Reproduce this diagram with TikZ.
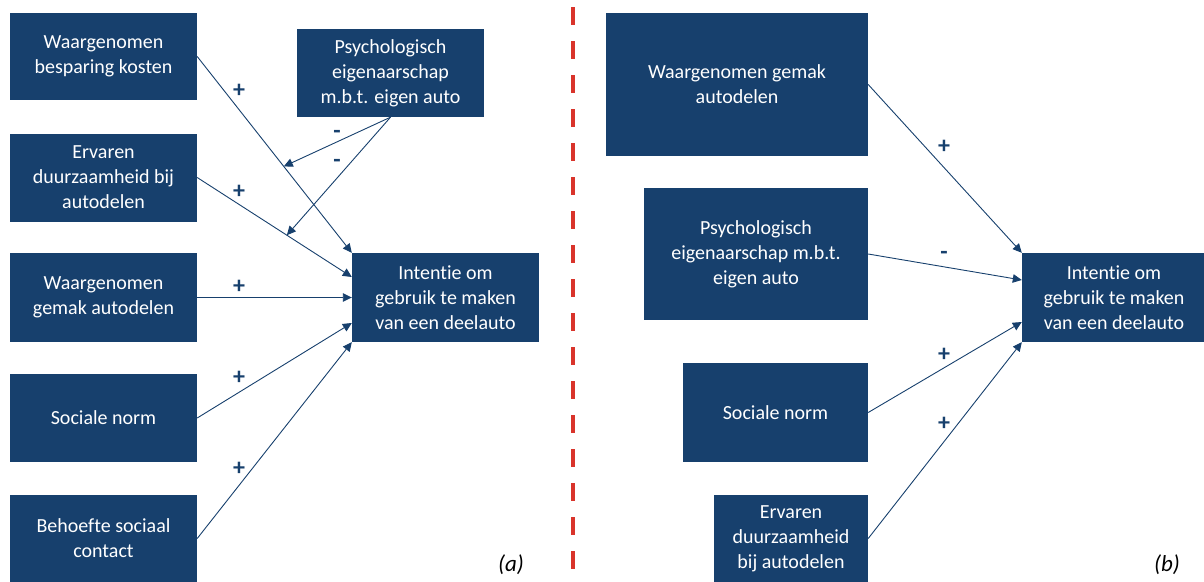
\documentclass[tikz,border=0pt]{standalone}
\usepackage{fontspec}
\setmainfont{Carlito}[Ligatures=NoCommon]
\usetikzlibrary{arrows.meta}
\definecolor{boxblue}{HTML}{17406D}
\definecolor{dashred}{HTML}{D9342B}
\tikzset{
  box/.style={fill=boxblue, draw=none, text=white, align=center, inner sep=0pt,
    font=\fontsize{20}{25}\selectfont},
  conn/.style={draw=boxblue, line width=0.9pt, -{Triangle[length=9pt,width=8.5pt]}},
  sign/.style={text=boxblue, font=\fontsize{24}{24}\selectfont\bfseries, inner sep=0pt},
  tag/.style={font=\fontsize{23}{23}\selectfont\itshape, inner sep=0pt}
}
\begin{document}
\begin{tikzpicture}[x=1pt,y=-1pt]
\useasboundingbox (0,0) rectangle (1204,581);
% ---- panel (a)
\node[box, minimum width=187pt, minimum height=87pt] (b1) at (103.5,56.5) {Waargenomen\\besparing kosten};
\node[box, minimum width=187pt, minimum height=88pt] (psy) at (390.5,73) {Psychologisch\\eigenaarschap\\m.b.t. eigen auto};
\node[box, minimum width=187pt, minimum height=88pt] (b2) at (103.5,177.5) {Ervaren\\duurzaamheid bij\\autodelen};
\node[box, minimum width=187pt, minimum height=89pt] (b3) at (103.5,297.5) {Waargenomen\\gemak autodelen};
\node[box, minimum width=187pt, minimum height=89pt] (int) at (445.5,297.5) {Intentie om\\gebruik te maken\\van een deelauto};
\node[box, minimum width=187pt, minimum height=88pt] (b4) at (103.5,418) {Sociale norm};
\node[box, minimum width=187pt, minimum height=88pt] (b5) at (103.5,538.5) {Behoefte sociaal\\contact};

\path (b1.east) -- (int.north west) coordinate[pos=0.56] (m1);
\path (b2.east) -- ([yshift=20.5pt]int.west) coordinate[pos=0.58] (m2);
\draw[conn] (b1.east) -- (int.north west);
\draw[conn] (b2.east) -- ([yshift=20.5pt]int.west);
\draw[conn] (b3.east) -- (int.west);
\draw[conn] (b4.east) -- ([yshift=-25.5pt]int.west);
\draw[conn] (b5.east) -- (int.south west);
\draw[conn] (psy.south) -- (m1);
\draw[conn] (psy.south) -- (m2);

\node[sign] (s1) at (239,91) {+};
\node[sign] (s2) at (239,192) {+};
\node[sign] (s3) at (239,287) {+};
\node[sign] (s4) at (239,378) {+};
\node[sign] (s5) at (239,469) {+};
\node[sign] (s6) at (337,134) {-};
\node[sign] (s7) at (337,163) {-};
\node[tag] (ta) at (511,565) {(a)};

% ---- divider
\coordinate (d1) at (573,7);
\coordinate (d2) at (573,581);
\draw[dashred, line width=4.5pt, dash pattern=on 18pt off 16pt] (d1) -- (d2);

% ---- panel (b)
\node[box, minimum width=262pt, minimum height=143pt] (r1) at (737,84.5) {Waargenomen gemak\\autodelen};
\node[box, minimum width=224pt, minimum height=132pt] (r2) at (756,254) {Psychologisch\\eigenaarschap m.b.t.\\eigen auto};
\node[box, minimum width=184pt, minimum height=89pt] (intr) at (1114,297.5) {Intentie om\\gebruik te maken\\van een deelauto};
\node[box, minimum width=185pt, minimum height=99pt] (r3) at (775.5,412.5) {Sociale norm};
\node[box, minimum width=154pt, minimum height=88pt] (r4) at (791,538.5) {Ervaren\\duurzaamheid\\bij autodelen};

\draw[conn] (r1.east) -- (intr.north west);
\draw[conn] (r2.east) -- ([yshift=17.5pt]intr.west);
\draw[conn] (r3.east) -- ([yshift=-24.5pt]intr.west);
\draw[conn] (r4.east) -- (intr.south west);

\node[sign] (t1) at (944,147) {+};
\node[sign] (t2) at (944,255) {-};
\node[sign] (t3) at (944,355) {+};
\node[sign] (t4) at (944,424) {+};
\node[tag] (tb) at (1167,565) {(b)};
\end{tikzpicture}
\end{document}
